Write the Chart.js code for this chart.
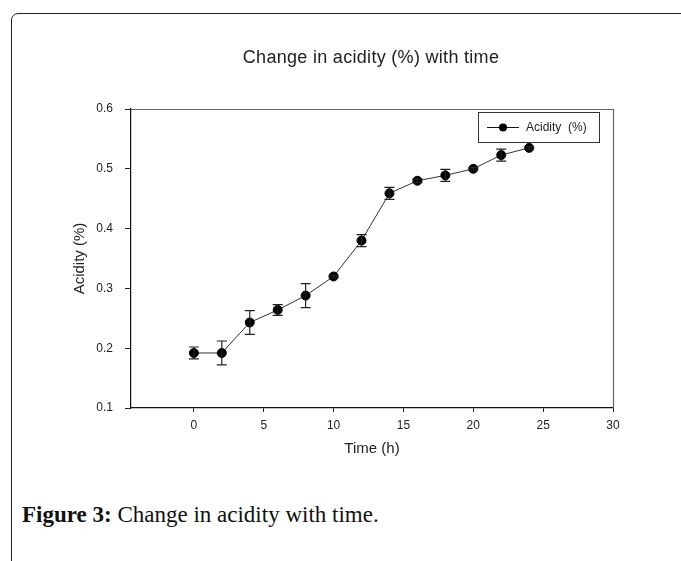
<!DOCTYPE html>
<html>
<head>
<meta charset="utf-8">
<script src="https://cdn.jsdelivr.net/npm/chart.js@4/dist/chart.umd.min.js"></script>
<style>
  html, body { margin: 0; padding: 0; background: #fff; }
  body { width: 681px; height: 561px; position: relative; overflow: hidden; }
  #frame {
    position: absolute; left: 11px; top: 13px; width: 720px; height: 600px;
    border: 1.5px solid #222; border-radius: 7px; box-sizing: border-box;
  }
  #wrap { position: absolute; left: 0; top: 0; width: 681px; height: 480px; }
  #title {
    position: absolute; left: 171px; width: 400px; top: 46px; text-align: center;
    font-family: "Liberation Sans", Arial, sans-serif; font-size: 18px; line-height: 22px;
    letter-spacing: 0.3px; color: #222; white-space: nowrap;
  }
  #caption {
    position: absolute; left: 22px; top: 503px; line-height: 23px;
    font-family: "Liberation Serif", "DejaVu Serif", serif; font-size: 23px; color: #111;
    white-space: nowrap;
  }
  #caption b { font-weight: bold; }
</style>
</head>
<body>
<div id="frame"></div>
<div id="wrap"><canvas id="acidityChart"></canvas></div>
<div id="title">Change in acidity (%) with time</div>
<div id="caption"><b>Figure 3:</b> Change in acidity with time.</div>

<script>
// data
var hours = [0, 2, 4, 6, 8, 10, 12, 14, 16, 18, 20, 22, 24];
var acidity = [0.192, 0.192, 0.243, 0.264, 0.288, 0.320, 0.380, 0.459, 0.480, 0.489, 0.500, 0.523, 0.535];
var acidityErr = [0.010, 0.020, 0.020, 0.009, 0.020, 0.002, 0.010, 0.010, 0.003, 0.010, 0.002, 0.010, 0.002];
var xTicks = [0, 5, 10, 15, 20, 25, 30];
var yTicks = [0.1, 0.2, 0.3, 0.4, 0.5, 0.6];

var points = hours.map(function (h, i) { return { x: h, y: acidity[i] }; });

var sansFont = '"Liberation Sans", Arial, sans-serif';

// error bars drawn through the scales
var errorBars = {
    id: 'errorBars',
    afterDatasetsDraw: function (chart) {
        var ctx = chart.ctx;
        var xs = chart.scales.x, ys = chart.scales.y;
        ctx.save();
        ctx.strokeStyle = '#222';
        ctx.lineWidth = 1.2;
        hours.forEach(function (h, i) {
            var px = xs.getPixelForValue(h);
            var top = ys.getPixelForValue(acidity[i] + acidityErr[i]);
            var bot = ys.getPixelForValue(acidity[i] - acidityErr[i]);
            ctx.beginPath();
            ctx.moveTo(px, top); ctx.lineTo(px, bot);
            ctx.moveTo(px - 5, top); ctx.lineTo(px + 5, top);
            ctx.moveTo(px - 5, bot); ctx.lineTo(px + 5, bot);
            ctx.stroke();
        });
        ctx.restore();
    }
};

// grey top/right edges of the plot box and the boxed legend
var boxAndLegend = {
    id: 'boxAndLegend',
    afterDraw: function (chart) {
        var ctx = chart.ctx;
        var a = chart.chartArea;
        ctx.save();
        ctx.strokeStyle = '#666';
        ctx.lineWidth = 1.2;
        ctx.beginPath();
        ctx.moveTo(a.left, a.top + 0.5); ctx.lineTo(a.right + 0.5, a.top + 0.5);
        ctx.lineTo(a.right + 0.5, a.bottom);
        ctx.stroke();

        // legend
        var lx = a.right - 135, ly = a.top + 3, lw = 121, lh = 30;
        ctx.strokeStyle = '#333';
        ctx.lineWidth = 1;
        ctx.strokeRect(lx + 0.5, ly + 0.5, lw, lh);
        var cy = ly + lh / 2 + 0.5;
        ctx.strokeStyle = '#111';
        ctx.beginPath();
        ctx.moveTo(lx + 9, cy); ctx.lineTo(lx + 41, cy);
        ctx.stroke();
        ctx.fillStyle = '#000';
        ctx.beginPath();
        ctx.arc(lx + 25, cy, 4, 0, Math.PI * 2);
        ctx.fill();
        ctx.font = '12px ' + sansFont;
        ctx.textBaseline = 'middle';
        ctx.fillStyle = '#222';
        ctx.fillText(chart.data.datasets[0].label, lx + 48, cy);
        ctx.restore();
    }
};

var ctx = document.getElementById('acidityChart').getContext('2d');

var chart = new Chart(ctx, {
    type: 'scatter',
    data: {
        datasets: [{
            label: 'Acidity  (%)',
            data: points,
            showLine: true,
            borderColor: '#333',
            borderWidth: 1,
            backgroundColor: '#000',
            pointBackgroundColor: '#000',
            pointBorderColor: '#000',
            pointRadius: 4.5,
            pointHoverRadius: 4.5,
            tension: 0
        }]
    },
    options: {
        responsive: true,
        maintainAspectRatio: false,
        animation: false,
        devicePixelRatio: 1,
        layout: { padding: { top: 109, left: 0, right: 68, bottom: 0 } },
        plugins: {
            legend: { display: false },
            tooltip: { enabled: false },
            title: { display: false }
        },
        scales: {
            x: {
                type: 'linear',
                min: -4.5,
                max: 30,
                afterBuildTicks: function (s) { s.ticks = xTicks.map(function (v) { return { value: v }; }); },
                afterFit: function (s) { s.height = 72; },
                grid: { drawOnChartArea: false, drawTicks: true, tickLength: 4, tickColor: '#222' },
                border: { display: true, color: '#111', width: 1.2 },
                ticks: {
                    color: '#222', padding: 6,
                    font: { family: sansFont, size: 12 },
                    maxRotation: 0
                },
                title: {
                    display: true, text: 'Time (h)', color: '#222',
                    font: { family: sansFont, size: 15, lineHeight: 1.2 },
                    padding: { top: 0, bottom: 22 }
                }
            },
            y: {
                type: 'linear',
                min: 0.1,
                max: 0.6,
                afterBuildTicks: function (s) { s.ticks = yTicks.map(function (v) { return { value: v }; }); },
                afterFit: function (s) { s.width = 131; },
                grid: { drawOnChartArea: false, drawTicks: true, tickLength: 6, tickColor: '#222' },
                border: { display: true, color: '#111', width: 1.2 },
                ticks: {
                    color: '#222', padding: 12,
                    font: { family: sansFont, size: 12 },
                    callback: function (v) { return v.toFixed(1); }
                },
                title: {
                    display: true, text: 'Acidity (%)', color: '#222',
                    font: { family: sansFont, size: 15, lineHeight: 1.2 },
                    padding: { top: 71, bottom: 0 }
                }
            }
        }
    },
    plugins: [errorBars, boxAndLegend]
});
</script>
</body>
</html>
